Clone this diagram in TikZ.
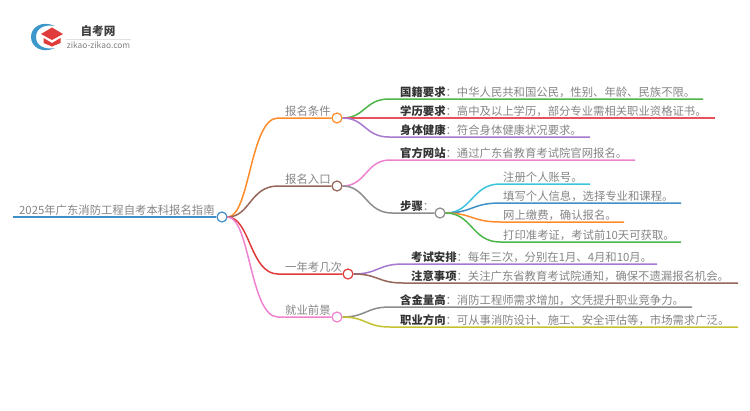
\documentclass[tikz,border=0pt]{standalone}
\usepackage{fontspec}
\setmainfont{Noto Sans CJK SC}
\definecolor{cOrange}{HTML}{FF8C2A}
\definecolor{cBrown}{HTML}{96665A}
\definecolor{cRed}{HTML}{E03C3C}
\definecolor{cPink}{HTML}{EE82D0}
\definecolor{cBlue}{HTML}{3F8FC8}
\definecolor{cGreen}{HTML}{4CB648}
\definecolor{cRose}{HTML}{E8505B}
\definecolor{cPurple}{HTML}{A678D0}
\definecolor{cCyan}{HTML}{3CC4DC}
\definecolor{cGray}{HTML}{8C8C8C}
\definecolor{cOlive}{HTML}{C4C22E}
\definecolor{cText}{HTML}{858585}
\definecolor{cBold}{HTML}{333333}
\tikzset{
  hub/.style={circle,draw=#1,fill=white,line width=1.2pt,minimum size=10pt,inner sep=0pt},
  wire/.style={draw=#1,line width=1.5pt},
  label/.style={anchor=base west,inner sep=0pt,text=cText,font=\fontsize{11.35pt}{13pt}\selectfont},
}
\newcommand{\bk}[1]{{\bfseries\color{cBold}#1}}
\begin{document}
\begin{tikzpicture}[x=1pt,y=-1pt]
\useasboundingbox (0,0) rectangle (750,410);
% logo
\fill[cBlue!85!cCyan] (55,26) .. controls (42,20) and (31,27) .. (31,37) .. controls (31,47) and (42,54) .. (55,48) .. controls (45,50) and (36,46) .. (36,37) .. controls (36,28) and (45,24) .. (55,26) -- cycle;
\fill[cRed] (41,34) -- (52,27.5) -- (63,34) -- (52,40) -- cycle;
\fill[cRed] (43.5,38) -- (52,43) -- (60.5,38) -- (60.5,43) -- (52,46.5) -- (43.5,43) -- cycle;
\node[anchor=center,inner sep=0pt,text=black!75,font=\fontsize{11.6pt}{13pt}\selectfont\bfseries] (logoT) at (98,31) {自考网};
\coordinate (logoA) at (66,39);
\coordinate (logoB) at (131,39);
\draw[black!12,line width=.6pt] (logoA) -- (logoB);
\node[anchor=center,inner sep=0pt,text=black!50,font=\fontsize{8.4pt}{9pt}\selectfont] (logoU) at (98.5,45) {zikao-zikao.com};
% hubs
\node[hub=cBlue]   (root) at (222,217) {};
\node[hub=cOrange] (b1) at (337,118) {};
\node[hub=cBrown]  (b2) at (337,186) {};
\node[hub=cRed]    (b3) at (348,274) {};
\node[hub=cPink]   (b4) at (337,317) {};
\node[hub=cGray]   (st) at (440,213) {};
% labels
\node[label] (tRoot) at (19,214.5) {2025年广东消防工程自考本科报名指南};
\node[label] (t1) at (285,115.5) {报名条件};
\node[label] (t2) at (285,183.5) {报名入口};
\node[label] (t3) at (285,271.5) {一年考几次};
\node[label] (t4) at (285,314.5) {就业前景};
\node[label] (l1) at (400,96.5) {\bk{国籍要求}：中华人民共和国公民，性别、年龄、民族不限。};
\node[label] (l2) at (400,115.5) {\bk{学历要求}：高中及以上学历，部分专业需相关职业资格证书。};
\node[label] (l3) at (400,134.5) {\bk{身体健康}：符合身体健康状况要求。};
\node[label] (l4) at (400,157.5) {\bk{官方网站}：通过广东省教育考试院官网报名。};
\node[label] (l5) at (400,210.5) {\bk{步骤}：};
\node[label] (s1) at (503,181.5) {注册个人账号。};
\node[label] (s2) at (503,200.5) {填写个人信息，选择专业和课程。};
\node[label] (s3) at (503,219.5) {网上缴费，确认报名。};
\node[label] (s4) at (503,239.5) {打印准考证，考试前10天可获取。};
\node[label] (l6) at (411,261.5) {\bk{考试安排}：每年三次，分别在1月、4月和10月。};
\node[label] (l7) at (411,280.5) {\bk{注意事项}：关注广东省教育考试院通知，确保不遗漏报名机会。};
\node[label] (l8) at (400,304.5) {\bk{含金量高}：消防工程师需求增加，文凭提升职业竞争力。};
\node[label] (l9) at (400,324.5) {\bk{职业方向}：可从事消防设计、施工、安全评估等，市场需求广泛。};
% free ends
\coordinate (r0) at (13,217);
\coordinate (e1) at (703,99);
\coordinate (e2) at (715,118);
\coordinate (e3) at (590,137);
\coordinate (e4) at (635,160);
\coordinate (e5) at (590,184);
\coordinate (e6) at (681,203);
\coordinate (e7) at (624,222);
\coordinate (e8) at (681,242);
\coordinate (e9) at (657,264);
\coordinate (e10) at (738,283);
\coordinate (e11) at (692,307);
\coordinate (e12) at (738,327);
\draw[wire=cBlue] (r0) -- (root.west);
\draw[wire=cOrange] (root.east) .. controls (250,217) and (250,118) .. (278,118) -- (b1.west);
\draw[wire=cBrown] (root.east) .. controls (250,217) and (250,186) .. (278,186) -- (b2.west);
\draw[wire=cRed] (root.east) .. controls (250,217) and (250,274) .. (278,274) -- (b3.west);
\draw[wire=cPink] (root.east) .. controls (250,217) and (250,317) .. (278,317) -- (b4.west);
\draw[wire=cGreen] (b1.east) .. controls (365,118) and (365,99) .. (389,99) -- (e1);
\draw[wire=cRose] (b1.east) -- (e2);
\draw[wire=cPurple] (b1.east) .. controls (365,118) and (365,137) .. (389,137) -- (e3);
\draw[wire=cPink] (b2.east) .. controls (366,186) and (366,160) .. (390,160) -- (e4);
\draw[wire=cGray] (b2.east) .. controls (366,186) and (366,213) .. (392,213) -- (st.west);
\draw[wire=cCyan] (st.east) .. controls (472,213) and (472,184) .. (500,184) -- (e5);
\draw[wire=cBlue] (st.east) .. controls (472,213) and (472,203) .. (500,203) -- (e6);
\draw[wire=cOrange] (st.east) .. controls (472,213) and (472,222) .. (500,222) -- (e7);
\draw[wire=cGreen] (st.east) .. controls (472,213) and (472,242) .. (500,242) -- (e8);
\draw[wire=cPurple] (b3.east) .. controls (378,274) and (378,264) .. (403,264) -- (e9);
\draw[wire=cBrown] (b3.east) .. controls (378,274) and (378,283) .. (403,283) -- (e10);
\draw[wire=cGray] (b4.east) .. controls (366,317) and (366,307) .. (390,307) -- (e11);
\draw[wire=cOlive] (b4.east) .. controls (366,317) and (366,327) .. (390,327) -- (e12);
\end{tikzpicture}
\end{document}
